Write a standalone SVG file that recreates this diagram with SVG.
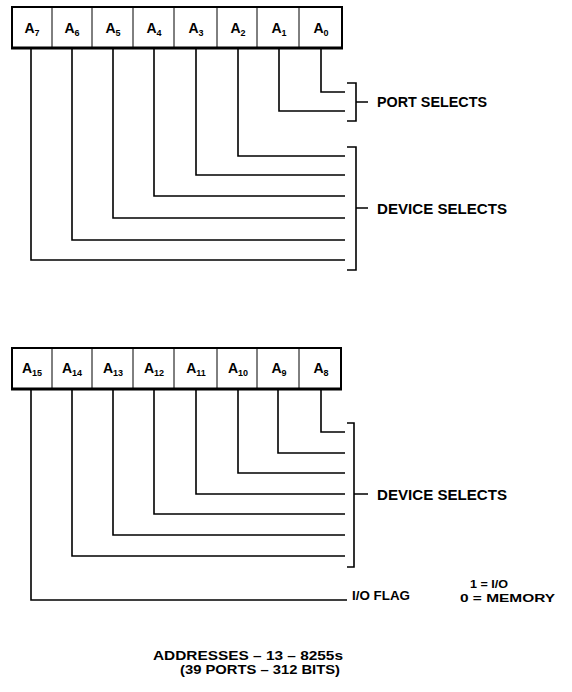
<svg xmlns="http://www.w3.org/2000/svg" width="572" height="692" viewBox="0 0 572 692">
<style>
.box{fill:#fff;stroke:#000;stroke-width:2}
.base{stroke:#000;stroke-width:3}
.div{stroke:#000;stroke-width:1}
.lbl{font-family:"Liberation Sans",Arial,sans-serif;font-weight:bold;font-size:14px;fill:#000;text-anchor:middle}
.sub{font-size:9px}
.wire{fill:none;stroke:#000;stroke-width:1.6}
.txt{font-family:"Liberation Sans",Arial,sans-serif;font-weight:bold;fill:#000}
</style>
<rect width="572" height="692" fill="#fff"/>
<g id="reg-low">
<rect class="box" x="12" y="7" width="330" height="41"/>
<line class="base" x1="11" y1="48" x2="343" y2="48"/>
<path class="div" d="M52 7V48M92 7V48M133 7V48M174 7V48M217 7V48M257 7V48M299 7V48"/>
<text class="lbl" x="32" y="33">A<tspan class="sub" dy="3">7</tspan></text>
<text class="lbl" x="72" y="33">A<tspan class="sub" dy="3">6</tspan></text>
<text class="lbl" x="113" y="33">A<tspan class="sub" dy="3">5</tspan></text>
<text class="lbl" x="154" y="33">A<tspan class="sub" dy="3">4</tspan></text>
<text class="lbl" x="196" y="33">A<tspan class="sub" dy="3">3</tspan></text>
<text class="lbl" x="238" y="33">A<tspan class="sub" dy="3">2</tspan></text>
<text class="lbl" x="279" y="33">A<tspan class="sub" dy="3">1</tspan></text>
<text class="lbl" x="321" y="33">A<tspan class="sub" dy="3">0</tspan></text>
</g>
<g id="reg-high">
<rect class="box" x="12" y="348" width="329" height="41"/>
<line class="base" x1="11" y1="389" x2="342" y2="389"/>
<path class="div" d="M52 348V389M92 348V389M133 348V389M174 348V389M217 348V389M257 348V389M299 348V389"/>
<text class="lbl" x="32" y="373">A<tspan class="sub" dy="3">15</tspan></text>
<text class="lbl" x="72" y="373">A<tspan class="sub" dy="3">14</tspan></text>
<text class="lbl" x="113" y="373">A<tspan class="sub" dy="3">13</tspan></text>
<text class="lbl" x="154" y="373">A<tspan class="sub" dy="3">12</tspan></text>
<text class="lbl" x="196" y="373">A<tspan class="sub" dy="3">11</tspan></text>
<text class="lbl" x="238" y="373">A<tspan class="sub" dy="3">10</tspan></text>
<text class="lbl" x="279" y="373">A<tspan class="sub" dy="3">9</tspan></text>
<text class="lbl" x="321" y="373">A<tspan class="sub" dy="3">8</tspan></text>
</g>
<g id="connectors">
<path class="wire" d="M321 48V92H345"/>
<path class="wire" d="M279 48V111H345"/>
<path class="wire" d="M238 48V156H345"/>
<path class="wire" d="M196 48V175H345"/>
<path class="wire" d="M154 48V196H345"/>
<path class="wire" d="M113 48V218H345"/>
<path class="wire" d="M72 48V240H345"/>
<path class="wire" d="M31 48V260H345"/>
<path class="wire" d="M347 83H356V121H347M356 102H368"/>
<path class="wire" d="M347 147H356V270H347M356 208H368"/>
<path class="wire" d="M321 389V432H345"/>
<path class="wire" d="M278 389V453H345"/>
<path class="wire" d="M238 389V473H345"/>
<path class="wire" d="M196 389V494H345"/>
<path class="wire" d="M154 389V514H345"/>
<path class="wire" d="M113 389V535H345"/>
<path class="wire" d="M72 389V556H345"/>
<path class="wire" d="M31 389V600H347"/>
<path class="wire" d="M347 423H354V567H347M354 494H368"/>
</g>
<g id="labels">
<text class="txt" x="377" y="107" font-size="14.5" textLength="110" lengthAdjust="spacingAndGlyphs">PORT SELECTS</text>
<text class="txt" x="377" y="214" font-size="15" textLength="130" lengthAdjust="spacingAndGlyphs">DEVICE SELECTS</text>
<text class="txt" x="377" y="500" font-size="15" textLength="130" lengthAdjust="spacingAndGlyphs">DEVICE SELECTS</text>
<text class="txt" x="352" y="600" font-size="12.5" textLength="58" lengthAdjust="spacingAndGlyphs">I/O FLAG</text>
<text class="txt" x="470" y="588" font-size="11" textLength="38" lengthAdjust="spacingAndGlyphs">1 = I/O</text>
<text class="txt" x="460" y="602" font-size="11" textLength="95" lengthAdjust="spacingAndGlyphs">0 = MEMORY</text>
<text class="txt" x="153" y="660" font-size="12.5" textLength="190" lengthAdjust="spacingAndGlyphs">ADDRESSES – 13 – 8255s</text>
<text class="txt" x="180" y="674" font-size="12.5" textLength="160" lengthAdjust="spacingAndGlyphs">(39 PORTS – 312 BITS)</text>
</g>
</svg>
